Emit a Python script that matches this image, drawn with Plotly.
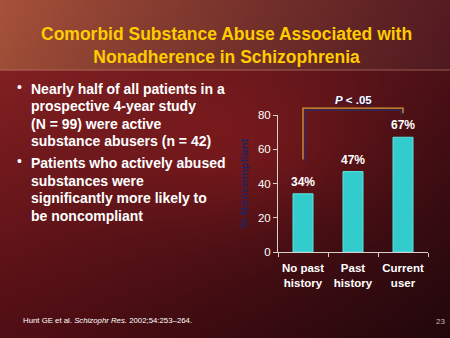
import base64, struct, zlib
import numpy as np
import plotly.graph_objects as go

# ---- data ----
categories = ["No past<br>history", "Past<br>history", "Current<br>user"]
noncompliant_pct = [34, 47, 67]
y_ticks = [0, 20, 40, 60, 80]
title_lines = ["Comorbid Substance Abuse Associated with", "Nonadherence in Schizophrenia"]
bullet1 = ["Nearly half of all patients in a", "prospective 4-year study",
           "(N = 99) were active", "substance abusers (n = 42)"]
bullet2 = ["Patients who actively abused", "substances were",
           "significantly more likely to", "be noncompliant"]
p_text = "<i>P</i> &lt; .05"
footnote = "Hunt GE et al. <i>Schizophr Res.</i> 2002;54:253–264."
page_no = "23"

W, H = 450, 338

# ---- background image (gradient) ----
def make_bg(w=225, h=169):
    u = np.linspace(0, 1, w)[None, :]
    v = np.linspace(0, 1, h)[:, None]
    top = v < 70 / 338
    left_t = np.array([158, 78, 55.0]); right_t = np.array([80, 26, 32.0])
    t = np.clip(u ** 0.9, 0, 1)[..., None]
    band = left_t * (1 - t) + right_t * t
    band = band * (1 + 0.06 * (1 - v[..., None] / (70 / 338)).clip(0, 1))
    left_b_top = np.array([130, 32, 34.0]); left_b_bot = np.array([80, 14, 20.0])
    right_b_top = np.array([74, 16, 22.0]); right_b_bot = np.array([34, 8, 12.0])
    vb = ((v - 70 / 338) / (1 - 70 / 338)).clip(0, 1)[..., None]
    lt = left_b_top * (1 - vb) + left_b_bot * vb
    rt = right_b_top * (1 - vb) + right_b_bot * vb
    tb = np.clip(u ** 1.1, 0, 1)[..., None]
    lower = lt * (1 - tb) + rt * tb
    glow = np.exp(-((u - 0.55) ** 2 / 0.08 + (v - 0.45) ** 2 / 0.05))[..., None]
    lower = lower + glow * np.array([28, 5, 4.0])
    img = np.where(top[..., None], band, lower)
    img = np.clip(img, 0, 255).astype(np.uint8)
    raw = b"".join(b"\x00" + img[i].tobytes() for i in range(h))
    def chunk(tag, data):
        c = struct.pack(">I", len(data)) + tag + data
        return c + struct.pack(">I", zlib.crc32(tag + data) & 0xffffffff)
    png = b"\x89PNG\r\n\x1a\n" + chunk(b"IHDR", struct.pack(">IIBBBBB", w, h, 8, 2, 0, 0, 0)) \
          + chunk(b"IDAT", zlib.compress(raw, 9)) + chunk(b"IEND", b"")
    return "data:image/png;base64," + base64.b64encode(png).decode()

FONT = "Liberation Sans, Arial, sans-serif"
ML, MR, MT, MB = 278, 22, 115, 86
ymax = y_ticks[-1]

def px_to_paper(xp, yp):
    return (xp - ML) / (W - ML - MR), (H - MB - yp) / (H - MT - MB)

fig = go.Figure()
fig.add_trace(go.Bar(
    x=categories, y=noncompliant_pct, width=0.4,
    marker=dict(color="#33cccc", line=dict(color="#5fe0e0", width=1)),
    textposition="none", cliponaxis=False,
))

annotations = []
for c, v in zip(categories, noncompliant_pct):
    annotations.append(dict(text=f"<b>{v}%</b>", x=c, y=v, xref="x", yref="y", showarrow=False,
                            yanchor="bottom", yshift=3,
                            font=dict(color="white", size=12, family=FONT)))
tx, ty = px_to_paper(226, 45)
annotations.append(dict(text="<b>" + "<br>".join(title_lines) + "</b>", x=tx, y=ty,
                        xref="paper", yref="paper", showarrow=False,
                        font=dict(color="#ffcc00", size=17.5, family=FONT),
                        xanchor="center", yanchor="middle", align="center"))

def add_lines(lines, y0):
    for i, ln in enumerate(lines):
        xp, yp = px_to_paper(29, y0 + i * 17.5)
        annotations.append(dict(text="<b>" + ln + "</b>", x=xp, y=yp, xref="paper", yref="paper",
                                showarrow=False, xanchor="left", yanchor="middle",
                                font=dict(color="white", size=14, family=FONT)))
    xp, yp = px_to_paper(19, y0 - 2)
    annotations.append(dict(text="•", x=xp, y=yp, xref="paper", yref="paper", showarrow=False,
                            xanchor="center", yanchor="middle", font=dict(color="white", size=14, family=FONT)))

add_lines(bullet1, 88.5)
add_lines(bullet2, 163)

xp, yp = px_to_paper(21, 320.5)
annotations.append(dict(text=footnote, x=xp, y=yp, xref="paper", yref="paper", showarrow=False,
                        xanchor="left", yanchor="middle", font=dict(color="white", size=7.8, family=FONT)))
xp, yp = px_to_paper(447, 321)
annotations.append(dict(text=page_no, x=xp, y=yp, xref="paper", yref="paper", showarrow=False,
                        xanchor="right", yanchor="middle", font=dict(color="#c8b8b8", size=8, family=FONT)))

# significance bracket, positioned from the data
top_v = max(noncompliant_pct) + 17
left_v = noncompliant_pct[0] + 20
right_v = noncompliant_pct[-1] + 14
xl, xr = 0, len(categories) - 1
shapes = []
for dx, dy, col in [(0.04, -0.015, "#2b2c62"), (0, 0, "#d39a36")]:
    path = (f"M {xl + dx} {left_v / ymax + dy} L {xl + dx} {top_v / ymax + dy} "
            f"L {xr - dx} {top_v / ymax + dy} L {xr - dx} {right_v / ymax + dy}")
    shapes.append(dict(type="path", xref="x", yref="paper", path=path,
                       line=dict(color=col, width=1.3)))
for off, col in [(1, "#1a1a50"), (0, "white")]:
    annotations.append(dict(text="<b>" + p_text + "</b>", x=(xl + xr) / 2, y=top_v / ymax,
                            xref="x", yref="paper", showarrow=False, xshift=off, yshift=16 - off,
                            font=dict(color=col, size=11.5, family=FONT)))
shapes.append(dict(type="line", xref="paper", yref="paper",
                   x0=px_to_paper(0, 0)[0], x1=px_to_paper(W, 0)[0],
                   y0=px_to_paper(0, 70)[1], y1=px_to_paper(0, 70)[1],
                   line=dict(color="rgba(220,160,140,0.5)", width=1)))

fig.update_layout(
    width=W, height=H, margin=dict(l=ML, r=MR, t=MT, b=MB),
    paper_bgcolor="#5a1418", plot_bgcolor="rgba(0,0,0,0)",
    showlegend=False, annotations=annotations, shapes=shapes,
    images=[dict(source=make_bg(), xref="paper", yref="paper",
                 x=px_to_paper(0, 0)[0], y=px_to_paper(0, 0)[1],
                 sizex=W / (W - ML - MR), sizey=H / (H - MT - MB),
                 sizing="stretch", layer="below", xanchor="left", yanchor="top")],
    xaxis=dict(showline=True, linecolor="#d8d0d0", linewidth=1, ticks="outside",
               tickson="boundaries", ticklen=4, tickcolor="#d8d0d0", showgrid=False,
               tickangle=0, ticklabelstandoff=5, tickprefix="<b>", ticksuffix="</b>",
               tickfont=dict(color="white", size=11.5, family=FONT)),
    yaxis=dict(range=[0, ymax], tickvals=y_ticks, showline=True, linecolor="#d8d0d0",
               linewidth=1, ticks="outside", ticklen=4, tickcolor="#d8d0d0", showgrid=False,
               zeroline=False, tickprefix="<b>", ticksuffix="</b>",
               tickfont=dict(color="white", size=11.5, family=FONT),
               title=dict(text="<b>% Noncompliant</b>", standoff=6,
                          font=dict(color="#22235e", size=11.5, family=FONT))),
)
fig.write_html("out.html")
